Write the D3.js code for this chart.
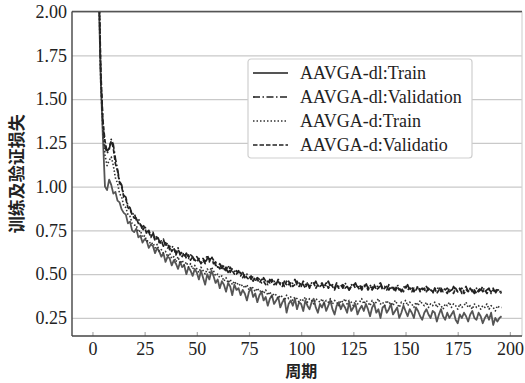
<!DOCTYPE html>
<html>
<head>
<meta charset="utf-8">
<script src="https://cdn.jsdelivr.net/npm/d3@7/dist/d3.min.js"></script>
<style>
  html, body { margin: 0; padding: 0; background: #fff; }
  svg { display: block; }
</style>
</head>
<body>
<svg id="chart" width="525" height="383"></svg>
<script>
// Loss per epoch (epochs 0..196)
const epochs = d3.range(0, 197);

const dlTrain = [
  4.20, 3.10, 2.55, 2.10, 1.60, 1.28, 1.00, 0.98, 1.04, 1.01,
  0.96, 0.97, 0.92, 0.91, 0.87, 0.85, 0.84, 0.79, 0.80, 0.75,
  0.74, 0.76, 0.71, 0.72, 0.68, 0.70, 0.69, 0.65, 0.67, 0.66,
  0.62, 0.65, 0.63, 0.60, 0.62, 0.57, 0.60, 0.59, 0.55, 0.58,
  0.56, 0.53, 0.57, 0.54, 0.55, 0.50, 0.54, 0.52, 0.49, 0.53,
  0.51, 0.47, 0.52, 0.48, 0.44, 0.50, 0.47, 0.52, 0.49, 0.45,
  0.47, 0.42, 0.46, 0.44, 0.40, 0.45, 0.43, 0.38, 0.44, 0.41,
  0.42, 0.38, 0.41, 0.39, 0.35, 0.40, 0.42, 0.37, 0.39, 0.34,
  0.38, 0.40, 0.35, 0.37, 0.32, 0.36, 0.38, 0.33, 0.35, 0.37,
  0.31, 0.34, 0.36, 0.28, 0.33, 0.35, 0.32, 0.36, 0.30, 0.34,
  0.33, 0.29, 0.35, 0.32, 0.30, 0.34, 0.36, 0.31, 0.28, 0.33,
  0.31, 0.34, 0.29, 0.32, 0.35, 0.30, 0.27, 0.32, 0.34, 0.30,
  0.33, 0.31, 0.28, 0.34, 0.29, 0.31, 0.33, 0.27, 0.30, 0.32,
  0.29, 0.33, 0.30, 0.26, 0.31, 0.33, 0.28, 0.30, 0.25, 0.31,
  0.32, 0.28, 0.30, 0.33, 0.27, 0.29, 0.31, 0.25, 0.28, 0.32,
  0.29, 0.26, 0.30, 0.28, 0.25, 0.31, 0.29, 0.26, 0.24, 0.28,
  0.30, 0.27, 0.25, 0.29, 0.28, 0.23, 0.27, 0.30, 0.26, 0.24,
  0.28, 0.25, 0.27, 0.29, 0.24, 0.22, 0.27, 0.25, 0.28, 0.26,
  0.23, 0.27, 0.29, 0.25, 0.24, 0.28, 0.26, 0.22, 0.25, 0.27,
  0.24, 0.28, 0.21, 0.25, 0.23, 0.25, 0.26
];

const dlValidation = [
  4.40, 3.30, 2.70, 2.20, 1.62, 1.36, 1.23, 1.19, 1.21, 1.27,
  1.24, 1.16, 1.10, 1.03, 1.01, 0.95, 0.94, 0.89, 0.88, 0.84,
  0.85, 0.81, 0.82, 0.78, 0.77, 0.78, 0.74, 0.75, 0.72, 0.74,
  0.70, 0.72, 0.69, 0.67, 0.70, 0.66, 0.68, 0.64, 0.66, 0.65,
  0.62, 0.65, 0.61, 0.63, 0.60, 0.62, 0.59, 0.61, 0.60, 0.57,
  0.60, 0.58, 0.56, 0.59, 0.57, 0.61, 0.58, 0.60, 0.56, 0.57,
  0.54, 0.56, 0.53, 0.55, 0.52, 0.55, 0.51, 0.53, 0.52, 0.50,
  0.52, 0.49, 0.51, 0.48, 0.50, 0.49, 0.47, 0.49, 0.46, 0.48,
  0.47, 0.45, 0.48, 0.46, 0.44, 0.47, 0.45, 0.46, 0.44, 0.47,
  0.45, 0.43, 0.46, 0.44, 0.46, 0.43, 0.45, 0.47, 0.44, 0.45,
  0.43, 0.46, 0.44, 0.45, 0.42, 0.45, 0.44, 0.46, 0.43, 0.44,
  0.45, 0.42, 0.44, 0.46, 0.43, 0.44, 0.42, 0.45, 0.43, 0.44,
  0.42, 0.45, 0.43, 0.41, 0.44, 0.43, 0.45, 0.42, 0.44, 0.41,
  0.43, 0.45, 0.42, 0.44, 0.41, 0.43, 0.42, 0.44, 0.45, 0.42,
  0.43, 0.41, 0.44, 0.42, 0.43, 0.41, 0.44, 0.42, 0.40, 0.43,
  0.42, 0.44, 0.41, 0.43, 0.40, 0.42, 0.43, 0.41, 0.42, 0.40,
  0.43, 0.41, 0.42, 0.39, 0.42, 0.41, 0.43, 0.40, 0.42, 0.41,
  0.39, 0.42, 0.40, 0.43, 0.41, 0.40, 0.42, 0.39, 0.41, 0.43,
  0.40, 0.42, 0.41, 0.39, 0.42, 0.40, 0.41, 0.43, 0.40, 0.41,
  0.42, 0.39, 0.41, 0.40, 0.42, 0.40, 0.39
];

const dTrain = [
  4.30, 3.20, 2.62, 2.15, 1.58, 1.32, 1.18, 1.12, 1.15, 1.17,
  1.12, 1.05, 1.02, 0.96, 0.94, 0.89, 0.88, 0.84, 0.83, 0.79,
  0.78, 0.78, 0.74, 0.75, 0.71, 0.72, 0.69, 0.69, 0.67, 0.68,
  0.65, 0.67, 0.63, 0.64, 0.62, 0.63, 0.60, 0.62, 0.59, 0.60,
  0.57, 0.60, 0.56, 0.58, 0.55, 0.57, 0.54, 0.56, 0.53, 0.55,
  0.53, 0.51, 0.54, 0.52, 0.50, 0.53, 0.51, 0.54, 0.52, 0.49,
  0.50, 0.48, 0.49, 0.46, 0.48, 0.45, 0.47, 0.44, 0.46, 0.44,
  0.45, 0.43, 0.44, 0.42, 0.44, 0.41, 0.43, 0.42, 0.40, 0.42,
  0.40, 0.41, 0.39, 0.41, 0.38, 0.40, 0.37, 0.39, 0.38, 0.36,
  0.38, 0.37, 0.35, 0.38, 0.36, 0.37, 0.35, 0.37, 0.36, 0.34,
  0.36, 0.35, 0.37, 0.34, 0.36, 0.35, 0.33, 0.36, 0.35, 0.34,
  0.36, 0.33, 0.35, 0.34, 0.36, 0.33, 0.35, 0.34, 0.32, 0.35,
  0.34, 0.36, 0.33, 0.35, 0.34, 0.32, 0.35, 0.33, 0.34, 0.36,
  0.33, 0.35, 0.34, 0.32, 0.35, 0.33, 0.34, 0.36, 0.33, 0.34,
  0.32, 0.35, 0.33, 0.34, 0.32, 0.35, 0.33, 0.31, 0.34, 0.33,
  0.35, 0.32, 0.34, 0.33, 0.31, 0.34, 0.32, 0.35, 0.33, 0.32,
  0.34, 0.31, 0.33, 0.32, 0.34, 0.31, 0.33, 0.32, 0.30, 0.33,
  0.32, 0.34, 0.31, 0.33, 0.32, 0.30, 0.33, 0.31, 0.32, 0.34,
  0.31, 0.32, 0.30, 0.33, 0.31, 0.32, 0.30, 0.32, 0.31, 0.33,
  0.30, 0.32, 0.31, 0.29, 0.32, 0.31, 0.31
];

const dValidation = [
  4.50, 3.35, 2.75, 2.25, 1.66, 1.38, 1.26, 1.20, 1.22, 1.26,
  1.22, 1.13, 1.09, 1.02, 1.00, 0.94, 0.93, 0.88, 0.87, 0.84,
  0.82, 0.82, 0.79, 0.79, 0.75, 0.77, 0.73, 0.74, 0.71, 0.73,
  0.69, 0.71, 0.68, 0.69, 0.66, 0.68, 0.65, 0.66, 0.63, 0.65,
  0.61, 0.64, 0.62, 0.60, 0.62, 0.59, 0.61, 0.58, 0.60, 0.58,
  0.57, 0.59, 0.56, 0.58, 0.56, 0.59, 0.57, 0.60, 0.58, 0.55,
  0.55, 0.53, 0.55, 0.52, 0.54, 0.51, 0.54, 0.52, 0.50, 0.52,
  0.50, 0.51, 0.48, 0.50, 0.48, 0.47, 0.49, 0.46, 0.48, 0.47,
  0.45, 0.47, 0.46, 0.44, 0.46, 0.45, 0.47, 0.44, 0.45, 0.46,
  0.44, 0.45, 0.43, 0.46, 0.44, 0.45, 0.43, 0.44, 0.46, 0.43,
  0.45, 0.44, 0.42, 0.45, 0.43, 0.44, 0.45, 0.42, 0.44, 0.43,
  0.44, 0.43, 0.45, 0.42, 0.44, 0.43, 0.41, 0.44, 0.42, 0.43,
  0.44, 0.42, 0.43, 0.41, 0.43, 0.44, 0.42, 0.43, 0.41, 0.43,
  0.42, 0.44, 0.41, 0.43, 0.42, 0.44, 0.41, 0.42, 0.44, 0.41,
  0.42, 0.43, 0.41, 0.43, 0.42, 0.40, 0.43, 0.41, 0.42, 0.40,
  0.43, 0.41, 0.42, 0.40, 0.42, 0.41, 0.43, 0.40, 0.41, 0.42,
  0.40, 0.42, 0.41, 0.40, 0.42, 0.39, 0.41, 0.42, 0.40, 0.41,
  0.42, 0.40, 0.41, 0.39, 0.42, 0.40, 0.41, 0.42, 0.39, 0.41,
  0.40, 0.42, 0.40, 0.41, 0.39, 0.41, 0.42, 0.40, 0.41, 0.39,
  0.41, 0.40, 0.42, 0.39, 0.41, 0.40, 0.40
];

const seriesNames = ["AAVGA-dl:Train", "AAVGA-dl:Validation", "AAVGA-d:Train", "AAVGA-d:Validatio"];
const xTicks = [0, 25, 50, 75, 100, 125, 150, 175, 200];
const yTicks = [0.25, 0.50, 0.75, 1.00, 1.25, 1.50, 1.75, 2.00];
const yTitle = "训练及验证损失";
const xTitle = "周期";

// Line styles for each series
const styles = [
  { values: dlTrain,      stroke: "#555",  dash: null,            width: 1.8 },
  { values: dlValidation, stroke: "#222",  dash: "7,2.5,1.5,2.5", width: 1.7 },
  { values: dTrain,       stroke: "#333",  dash: "1.5,2",         width: 1.6 },
  { values: dValidation,  stroke: "#222",  dash: "4.5,2",         width: 1.7 }
];

const serif = "'Liberation Serif', 'Times New Roman', serif";
const svg = d3.select("#chart");
const plotLeft = 72, plotRight = 522, plotTop = 11.5, plotBottom = 336;

const x = d3.scaleLinear().domain([-9.8, 205.8]).range([plotLeft, plotRight]);
const y = d3.scaleLinear().domain([0.147, 2.0]).range([plotBottom, plotTop]);

// Horizontal grid
svg.append("g")
  .attr("transform", `translate(${plotLeft},0)`)
  .call(d3.axisLeft(y).tickValues(yTicks).tickSize(-(plotRight - plotLeft)).tickFormat(""))
  .call(g => g.select(".domain").remove())
  .call(g => g.selectAll("line").attr("stroke", "#c9c9c9").attr("stroke-width", 1.3));

// Y tick labels
svg.append("g")
  .attr("transform", `translate(${plotLeft},0)`)
  .call(d3.axisLeft(y).tickValues(yTicks).tickSize(0).tickPadding(5).tickFormat(d3.format(".2f")))
  .call(g => g.select(".domain").remove())
  .call(g => g.selectAll("text")
    .style("font-family", serif).style("font-size", "18px").attr("fill", "#222"));

// X axis with inward ticks
svg.append("g")
  .attr("transform", `translate(0,${plotBottom})`)
  .call(d3.axisBottom(x).tickValues(xTicks).tickSizeInner(-4).tickSizeOuter(0).tickFormat(d3.format("d")))
  .call(g => g.select(".domain").remove())
  .call(g => g.selectAll("line").attr("stroke", "#aaa").attr("stroke-width", 1.2))
  .call(g => g.selectAll("text")
    .attr("y", 6).attr("dy", "0.71em")
    .style("font-family", serif).style("font-size", "18px").attr("fill", "#222"));

// Clip region for the curves
svg.append("clipPath").attr("id", "plot-clip")
  .append("rect").attr("x", plotLeft).attr("y", plotTop)
  .attr("width", plotRight - plotLeft).attr("height", plotBottom - plotTop);

const line = d3.line()
  .x((d, i) => x(epochs[i]))
  .y(d => y(d));

const curves = svg.append("g").attr("clip-path", "url(#plot-clip)");
styles.forEach(s => {
  curves.append("path")
    .datum(s.values)
    .attr("d", line)
    .attr("fill", "none")
    .attr("stroke", s.stroke)
    .attr("stroke-width", s.width)
    .attr("stroke-dasharray", s.dash)
    .attr("stroke-linejoin", "round");
});

// Frame
svg.append("line").attr("x1", plotRight).attr("x2", plotRight).attr("y1", plotTop).attr("y2", plotBottom)
  .attr("stroke", "#d4d4d4").attr("stroke-width", 1.2);
svg.append("line").attr("x1", plotLeft).attr("x2", plotRight).attr("y1", plotTop).attr("y2", plotTop)
  .attr("stroke", "#555").attr("stroke-width", 1.3);
svg.append("line").attr("x1", plotLeft).attr("x2", plotLeft).attr("y1", plotTop).attr("y2", plotBottom)
  .attr("stroke", "#444").attr("stroke-width", 1.4);
svg.append("line").attr("x1", plotLeft).attr("x2", plotRight).attr("y1", plotBottom).attr("y2", plotBottom)
  .attr("stroke", "#444").attr("stroke-width", 1.4);

// Legend
const legend = svg.append("g").attr("transform", "translate(248,59)");
legend.append("rect")
  .attr("width", 224).attr("height", 99).attr("rx", 3)
  .attr("fill", "#fff").attr("stroke", "#cfcfcf").attr("stroke-width", 1.2);
seriesNames.forEach((name, i) => {
  const row = legend.append("g").attr("transform", `translate(0,${14 + i * 24})`);
  row.append("line")
    .attr("x1", 5).attr("x2", 40)
    .attr("stroke", styles[i].stroke)
    .attr("stroke-width", styles[i].width)
    .attr("stroke-dasharray", styles[i].dash);
  row.append("text")
    .attr("x", 52).attr("dy", "0.35em")
    .style("font-family", serif).style("font-size", "18px")
    .attr("fill", "#222")
    .text(name);
});

// Axis titles
svg.append("text")
  .attr("transform", `translate(17,${(plotTop + plotBottom) / 2}) rotate(-90)`)
  .attr("text-anchor", "middle").attr("dy", "0.35em")
  .style("font-family", "'Noto Sans CJK SC', sans-serif")
  .style("font-weight", "bold").style("font-size", "17px").attr("fill", "#222")
  .text(yTitle);

svg.append("text")
  .attr("x", x(100)).attr("y", 371)
  .attr("text-anchor", "middle").attr("dy", "0.35em")
  .style("font-family", "'Noto Sans CJK SC', sans-serif")
  .style("font-weight", "bold").style("font-size", "16px").attr("fill", "#222")
  .text(xTitle);
</script>
</body>
</html>
